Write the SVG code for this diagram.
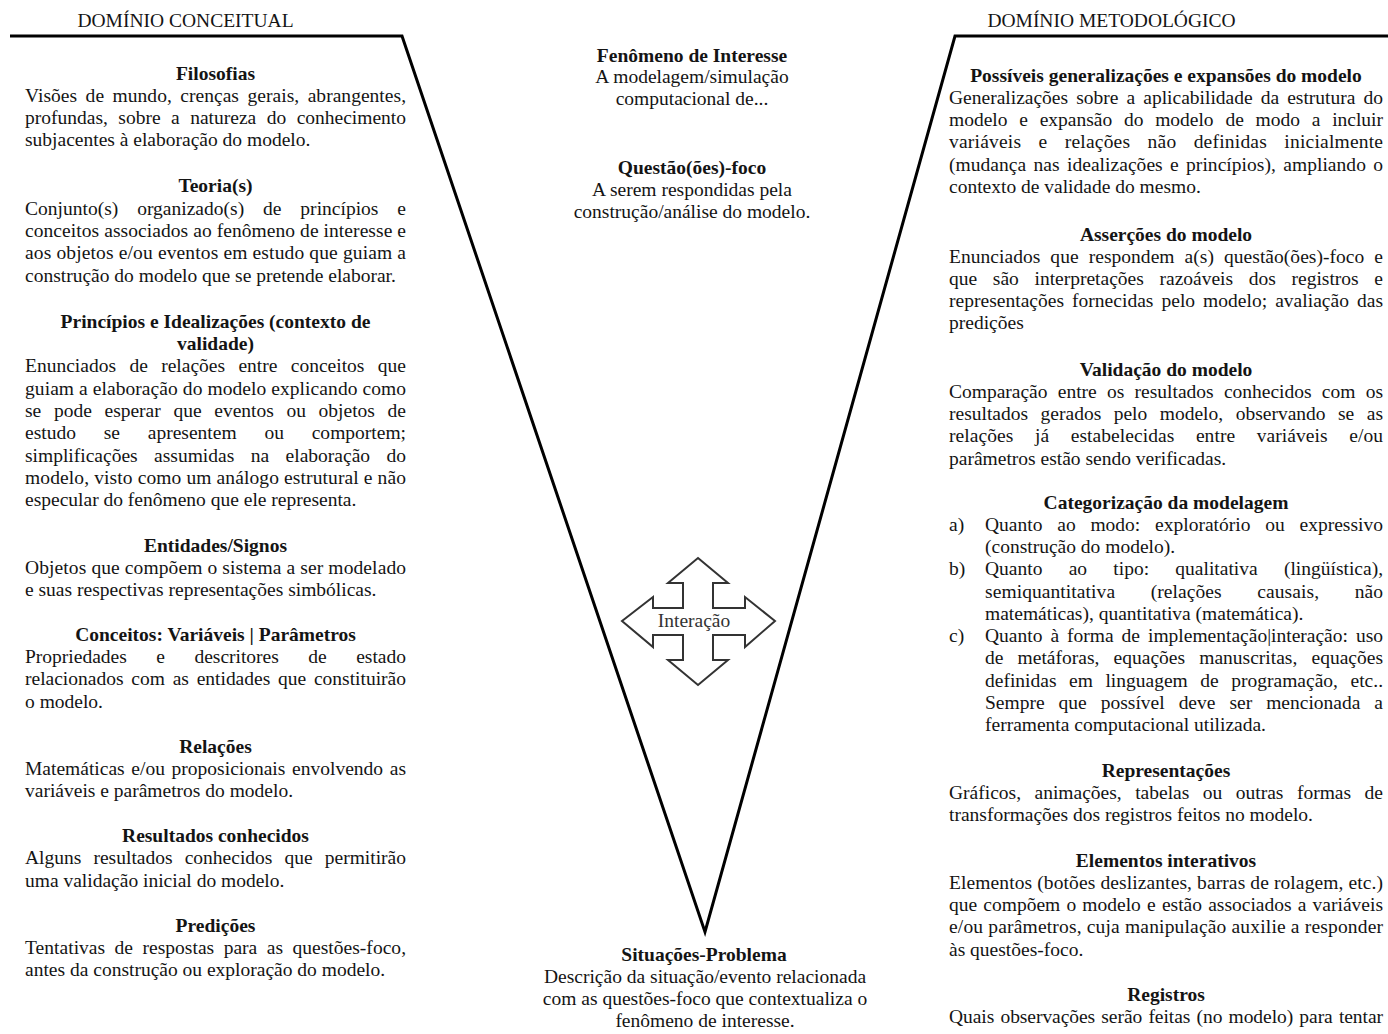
<svg xmlns="http://www.w3.org/2000/svg" width="1388" height="1034" viewBox="0 0 1388 1034">
<style>
text { font-family: "Liberation Serif", "Times New Roman", serif; font-size: 19.5px; fill: #141414; }
.h { font-weight: bold; text-anchor: middle; }
.c { text-anchor: middle; }
.vee { fill: none; stroke: #000; stroke-width: 3; stroke-linejoin: miter; }
.cross { fill: #fff; stroke: #333; stroke-width: 2; stroke-linejoin: miter; }
</style>
<rect width="1388" height="1034" fill="#fff"/>

<g id="connectors">
  <path class="vee" d="M10,36 L402,36 L705,932 L955,36 L1388,36"/>
</g>

<g id="dominio-conceitual"><text x="185.5" y="27" class="c">DOMÍNIO CONCEITUAL</text></g>
<g id="dominio-metodologico"><text x="1111.5" y="27" class="c">DOMÍNIO METODOLÓGICO</text></g>

<g id="filosofias">
  <text x="215.5" y="80" class="h">Filosofias</text>
  <text x="25" y="102" style="word-spacing:3.6px" textLength="381" lengthAdjust="spacing">Visões de mundo, crenças gerais, abrangentes,</text>
  <text x="25" y="124" style="word-spacing:5.6px" textLength="381" lengthAdjust="spacing">profundas, sobre a natureza do conhecimento</text>
  <text x="25" y="146">subjacentes à elaboração do modelo.</text>
</g>

<g id="teorias">
  <text x="215.5" y="192" class="h">Teoria(s)</text>
  <text x="25" y="215" style="word-spacing:14px" textLength="381" lengthAdjust="spacing">Conjunto(s) organizado(s) de princípios e</text>
  <text x="25" y="237" textLength="381" lengthAdjust="spacing">conceitos associados ao fenômeno de interesse e</text>
  <text x="25" y="259" textLength="381" lengthAdjust="spacing">aos objetos e/ou eventos em estudo que guiam a</text>
  <text x="25" y="282">construção do modelo que se pretende elaborar.</text>
</g>

<g id="principios">
  <text x="215.5" y="328" class="h">Princípios e Idealizações (contexto de</text>
  <text x="215.5" y="350" class="h">validade)</text>
  <text x="25" y="372" style="word-spacing:8.5px" textLength="381" lengthAdjust="spacing">Enunciados de relações entre conceitos que</text>
  <text x="25" y="395" textLength="381" lengthAdjust="spacing">guiam a elaboração do modelo explicando como</text>
  <text x="25" y="417" style="word-spacing:7.8px" textLength="381" lengthAdjust="spacing">se pode esperar que eventos ou objetos de</text>
  <text x="25" y="439" style="word-spacing:22.9px" textLength="381" lengthAdjust="spacing">estudo se apresentem ou comportem;</text>
  <text x="25" y="462" style="word-spacing:11.6px" textLength="381" lengthAdjust="spacing">simplificações assumidas na elaboração do</text>
  <text x="25" y="484" textLength="381" lengthAdjust="spacing">modelo, visto como um análogo estrutural e não</text>
  <text x="25" y="506">especular do fenômeno que ele representa.</text>
</g>

<g id="entidades">
  <text x="215.5" y="552" class="h">Entidades/Signos</text>
  <text x="25" y="574" textLength="381" lengthAdjust="spacing">Objetos que compõem o sistema a ser modelado</text>
  <text x="25" y="596">e suas respectivas representações simbólicas.</text>
</g>

<g id="conceitos">
  <text x="215.5" y="641" class="h">Conceitos: Variáveis | Parâmetros</text>
  <text x="25" y="663" style="word-spacing:24.6px" textLength="381" lengthAdjust="spacing">Propriedades e descritores de estado</text>
  <text x="25" y="685" style="word-spacing:2.9px" textLength="381" lengthAdjust="spacing">relacionados com as entidades que constituirão</text>
  <text x="25" y="708">o modelo.</text>
</g>

<g id="relacoes">
  <text x="215.5" y="753" class="h">Relações</text>
  <text x="25" y="775" style="word-spacing:1.8px" textLength="381" lengthAdjust="spacing">Matemáticas e/ou proposicionais envolvendo as</text>
  <text x="25" y="797">variáveis e parâmetros do modelo.</text>
</g>

<g id="resultados">
  <text x="215.5" y="842" class="h">Resultados conhecidos</text>
  <text x="25" y="864" style="word-spacing:7.2px" textLength="381" lengthAdjust="spacing">Alguns resultados conhecidos que permitirão</text>
  <text x="25" y="887">uma validação inicial do modelo.</text>
</g>

<g id="predicoes">
  <text x="215.5" y="932" class="h">Predições</text>
  <text x="25" y="954" style="word-spacing:4.5px" textLength="381" lengthAdjust="spacing">Tentativas de respostas para as questões-foco,</text>
  <text x="25" y="976">antes da construção ou exploração do modelo.</text>
</g>

<g id="fenomeno">
  <text x="692" y="62" class="h">Fenômeno de Interesse</text>
  <text x="692" y="83" class="c">A modelagem/simulação</text>
  <text x="692" y="105" class="c">computacional de...</text>
</g>

<g id="questoes">
  <text x="692" y="174" class="h">Questão(ões)-foco</text>
  <text x="692" y="196" class="c">A serem respondidas pela</text>
  <text x="692" y="218" class="c">construção/análise do modelo.</text>
</g>

<g id="interacao">
  <polygon class="cross" points="698,558 728,583 713,583 713,608 745,608 745,597 775,621 745,647 745,635 713,635 713,660 728,660 698,685 668,660 683,660 683,635 653,635 653,647 622,621 653,597 653,608 683,608 683,583 668,583"/>
  <text x="694" y="627" class="c" style="fill:#333">Interação</text>
</g>

<g id="situacoes">
  <text x="704" y="961" class="h">Situações-Problema</text>
  <text x="705" y="983" class="c">Descrição da situação/evento relacionada</text>
  <text x="705" y="1005" class="c">com as questões-foco que contextualiza o</text>
  <text x="705" y="1027" class="c">fenômeno de interesse.</text>
</g>

<g id="generalizacoes">
  <text x="1166" y="82" class="h">Possíveis generalizações e expansões do modelo</text>
  <text x="949" y="104" style="word-spacing:3.2px" textLength="434" lengthAdjust="spacing">Generalizações sobre a aplicabilidade da estrutura do</text>
  <text x="949" y="126" style="word-spacing:6.9px" textLength="434" lengthAdjust="spacing">modelo e expansão do modelo de modo a incluir</text>
  <text x="949" y="148" style="word-spacing:12.2px" textLength="434" lengthAdjust="spacing">variáveis e relações não definidas inicialmente</text>
  <text x="949" y="171" style="word-spacing:2.4px" textLength="434" lengthAdjust="spacing">(mudança nas idealizações e princípios), ampliando o</text>
  <text x="949" y="193">contexto de validade do mesmo.</text>
</g>

<g id="assercoes">
  <text x="1166" y="241" class="h">Asserções do modelo</text>
  <text x="949" y="263" style="word-spacing:5.1px" textLength="434" lengthAdjust="spacing">Enunciados que respondem a(s) questão(ões)-foco e</text>
  <text x="949" y="285" style="word-spacing:10.8px" textLength="434" lengthAdjust="spacing">que são interpretações razoáveis dos registros e</text>
  <text x="949" y="307" style="word-spacing:3.1px" textLength="434" lengthAdjust="spacing">representações fornecidas pelo modelo; avaliação das</text>
  <text x="949" y="329">predições</text>
</g>

<g id="validacao">
  <text x="1166" y="376" class="h">Validação do modelo</text>
  <text x="949" y="398" style="word-spacing:5.4px" textLength="434" lengthAdjust="spacing">Comparação entre os resultados conhecidos com os</text>
  <text x="949" y="420" style="word-spacing:7.6px" textLength="434" lengthAdjust="spacing">resultados gerados pelo modelo, observando se as</text>
  <text x="949" y="442" style="word-spacing:16.7px" textLength="434" lengthAdjust="spacing">relações já estabelecidas entre variáveis e/ou</text>
  <text x="949" y="465">parâmetros estão sendo verificadas.</text>
</g>

<g id="categorizacao">
  <text x="1166" y="509" class="h">Categorização da modelagem</text>
  <text x="949" y="531">a)</text>
  <text x="985" y="531" style="word-spacing:9.9px" textLength="398" lengthAdjust="spacing">Quanto ao modo: exploratório ou expressivo</text>
  <text x="985" y="553">(construção do modelo).</text>
  <text x="949" y="575">b)</text>
  <text x="985" y="575" style="word-spacing:21.4px" textLength="398" lengthAdjust="spacing">Quanto ao tipo: qualitativa (lingüística),</text>
  <text x="985" y="598" style="word-spacing:30.6px" textLength="398" lengthAdjust="spacing">semiquantitativa (relações causais, não</text>
  <text x="985" y="620">matemáticas), quantitativa (matemática).</text>
  <text x="949" y="642">c)</text>
  <text x="985" y="642" style="word-spacing:3.1px" textLength="398" lengthAdjust="spacing">Quanto à forma de implementação|interação: uso</text>
  <text x="985" y="664" style="word-spacing:9.3px" textLength="398" lengthAdjust="spacing">de metáforas, equações manuscritas, equações</text>
  <text x="985" y="687" style="word-spacing:7.7px" textLength="398" lengthAdjust="spacing">definidas em linguagem de programação, etc..</text>
  <text x="985" y="709" style="word-spacing:9.1px" textLength="398" lengthAdjust="spacing">Sempre que possível deve ser mencionada a</text>
  <text x="985" y="731">ferramenta computacional utilizada.</text>
</g>

<g id="representacoes">
  <text x="1166" y="777" class="h">Representações</text>
  <text x="949" y="799" style="word-spacing:8.6px" textLength="434" lengthAdjust="spacing">Gráficos, animações, tabelas ou outras formas de</text>
  <text x="949" y="821">transformações dos registros feitos no modelo.</text>
</g>

<g id="elementos">
  <text x="1166" y="867" class="h">Elementos interativos</text>
  <text x="949" y="889" textLength="434" lengthAdjust="spacing">Elementos (botões deslizantes, barras de rolagem, etc.)</text>
  <text x="949" y="911" style="word-spacing:1.3px" textLength="434" lengthAdjust="spacing">que compõem o modelo e estão associados a variáveis</text>
  <text x="949" y="933" textLength="434" lengthAdjust="spacing">e/ou parâmetros, cuja manipulação auxilie a responder</text>
  <text x="949" y="956">às questões-foco.</text>
</g>

<g id="registros">
  <text x="1166" y="1001" class="h">Registros</text>
  <text x="949" y="1023" style="word-spacing:1.4px" textLength="434" lengthAdjust="spacing">Quais observações serão feitas (no modelo) para tentar</text>
</g>
</svg>
